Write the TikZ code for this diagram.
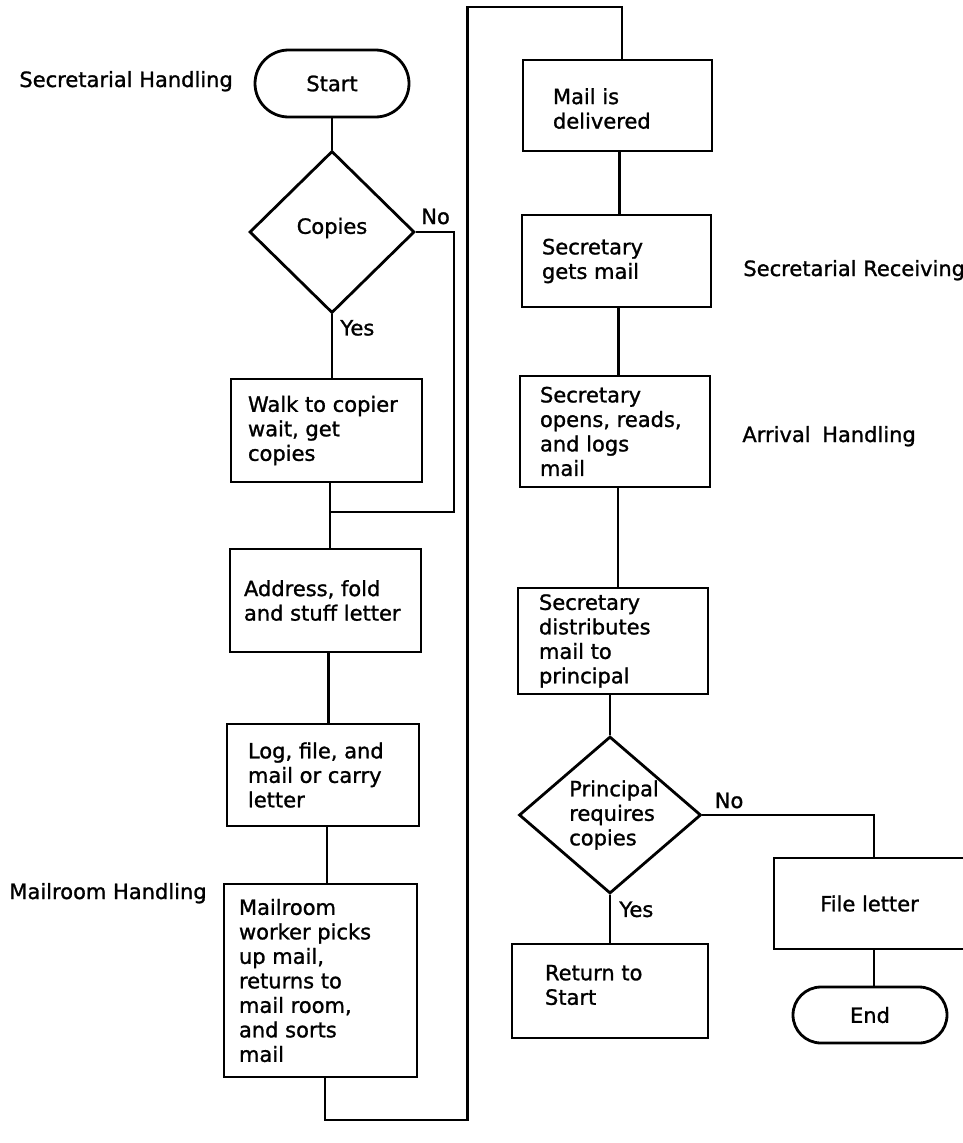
\documentclass[tikz,border=0pt]{standalone}
\usepackage{fontspec}
\setmainfont{DejaVu Sans}[UprightFeatures={FakeBold=1.2}]
\usetikzlibrary{shapes.geometric,shapes.misc}
\begin{document}
\begin{tikzpicture}[x=1pt,y=-1pt,
  font=\fontsize{21}{24.5}\selectfont,
  line width=2.8pt,
  box/.style={draw, rectangle, inner sep=0pt},
  txt/.style={anchor=west, align=left, inner sep=0pt},
  term/.style={draw, rounded rectangle, inner sep=0pt, minimum width=154pt},
  dia/.style={draw, diamond, inner sep=0pt},
  lbl/.style={anchor=base west, inner sep=0pt}]
\fill[white] (0,0) rectangle (963,1143);
\useasboundingbox (0,0) rectangle (963,1143);

% left column
\node[term, minimum height=67pt] (start) at (332,83.5) {Start};
\node[dia, minimum width=165pt, minimum height=162pt,
  label={[inner sep=0pt, yshift=4pt]center:Copies}] (copies) at (332,232) {};
\node[box, minimum width=191pt, minimum height=103pt,
  label={[txt, xshift=17pt]west:{Walk to copier\\wait, get\\copies}}] (walk) at (326.5,430.5) {};
\node[box, minimum width=191pt, minimum height=103pt,
  label={[txt, xshift=14pt]west:{Address, fold\\and stuff letter}}] (address) at (325.5,600.5) {};
\node[box, minimum width=192pt, minimum height=102pt,
  label={[txt, xshift=21pt]west:{Log, file, and\\mail or carry\\letter}}] (log) at (323,775) {};
\node[box, minimum width=193pt, minimum height=193pt,
  label={[txt, xshift=15pt]west:{Mailroom\\worker picks\\up mail,\\returns to\\mail room,\\and sorts\\mail}}] (mailroom) at (320.5,980.5) {};

% right column
\node[box, minimum width=189pt, minimum height=91pt,
  label={[txt, xshift=30pt, yshift=-3pt]west:{Mail is\\delivered}}] (delivered) at (617.5,105.5) {};
\node[box, minimum width=189pt, minimum height=92pt,
  label={[txt, xshift=20pt]west:{Secretary\\gets mail}}] (gets) at (616.5,261) {};
\node[box, minimum width=190pt, minimum height=111pt,
  label={[txt, xshift=20pt]west:{Secretary\\opens, reads,\\and logs\\mail}}] (opens) at (615,431.5) {};
\node[box, minimum width=190pt, minimum height=106pt,
  label={[txt, xshift=21pt]west:{Secretary\\distributes\\mail to\\principal}}] (distributes) at (613,641) {};
\node[dia, minimum width=182pt, minimum height=157pt,
  label={[align=left, inner sep=0pt, xshift=4pt]center:{Principal\\requires\\copies}}] (principal) at (610,815) {};
\node[box, minimum width=196pt, minimum height=94pt,
  label={[txt, xshift=33pt, yshift=6pt]west:{Return to\\Start}}] (return) at (610,991) {};
\node[box, minimum width=191pt, minimum height=91pt] (filel) at (869.5,903.5) {File letter};
\node[term, minimum height=56pt] (end) at (870,1015) {End};

% side labels
\node[lbl] (lsh) at (18,87) {Secretarial Handling};
\node[lbl] (lsr) at (742,276) {Secretarial Receiving};
\node[lbl] (lah) at (741,442) {Arrival\hspace{0.55em}Handling};
\node[lbl] (lmh) at (8,899) {Mailroom Handling};

% branch labels
\node[lbl] (no1) at ([xshift=4pt, yshift=8pt]copies.east) {No};
\node[lbl] (yes1) at ([xshift=7pt, yshift=-21pt]copies.south) {Yes};
\node[lbl] (no2) at ([xshift=11pt, yshift=7pt]principal.east) {No};
\node[lbl] (yes2) at ([xshift=8pt, yshift=-22pt]principal.south) {Yes};

% connectors, left column
\coordinate (nocorner) at (454,512);
\coordinate (merge) at (330,512);
\draw (start.south) -- (copies.north);
\draw (copies.south) -- (copies.south |- walk.north);
\draw (copies.east) -| (nocorner) -- (merge);
\draw (merge |- walk.south) -- (merge |- address.north);
\draw ([xshift=3pt]address.south) -- ([xshift=3pt]address.south |- log.north);
\draw ([xshift=4pt]log.south) -- ([xshift=4pt]log.south |- mailroom.north);

% long link to right column
\coordinate (b1) at (325,1120);
\coordinate (b2) at (467.5,1120);
\coordinate (t1) at (467.5,7);
\coordinate (t2) at (622,7);
\draw (b1 |- mailroom.south) -- (b1) -- (b2) -- (t1) -- (t2) -- (t2 |- delivered.north);

% connectors, right column
\draw ([xshift=2pt]delivered.south) -- ([xshift=2pt]delivered.south |- gets.north);
\draw ([xshift=2pt]gets.south) -- ([xshift=2pt]gets.south |- opens.north);
\draw ([xshift=3pt]opens.south) -- ([xshift=3pt]opens.south |- distributes.north);
\draw (principal.north |- distributes.south) -- (principal.north);
\draw (principal.south) -- (principal.south |- return.north);
\draw (principal.east) -| ([xshift=4.5pt]filel.north);
\draw ([xshift=4.5pt]filel.south) -- ([xshift=4.5pt]filel.south |- end.north);
\end{tikzpicture}
\end{document}
